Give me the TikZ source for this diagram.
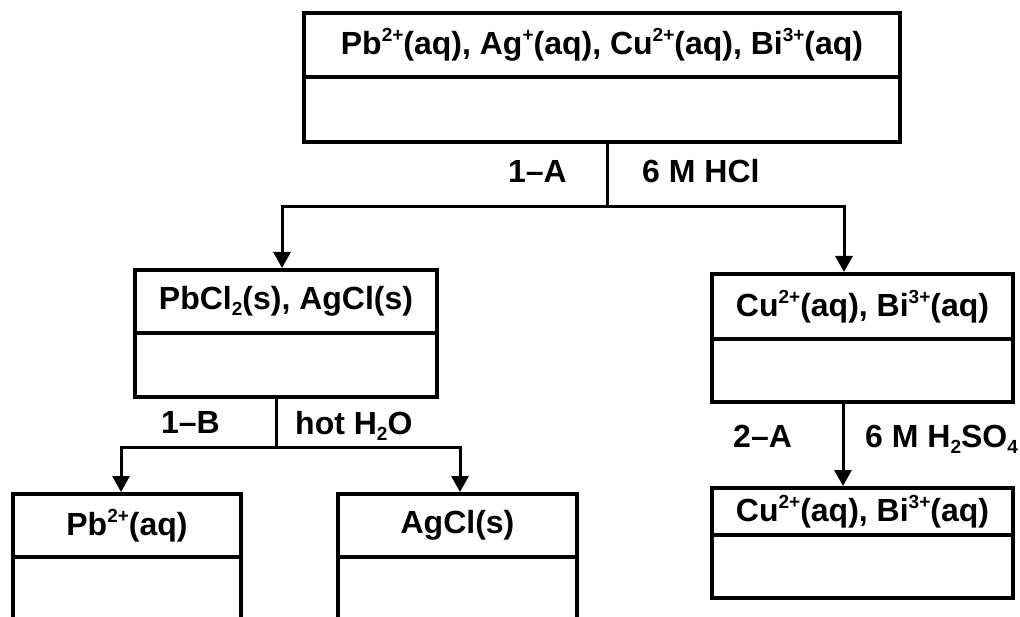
\documentclass[tikz,border=0pt]{standalone}
\usepackage{fontspec}
\setmainfont{Liberation Sans}
\usetikzlibrary{arrows.meta}
\newcommand{\ionsup}[1]{\raisebox{13pt}{\fontsize{19}{19}\selectfont #1}}
\newcommand{\chsub}[1]{\raisebox{-6pt}{\fontsize{19}{19}\selectfont #1}}
\tikzset{
  txt/.style={font=\fontsize{32}{38}\selectfont\bfseries},
  cell/.style={draw, line width=4pt, inner sep=0pt, txt},
  boxline/.style={line width=4pt},
  conn/.style={line width=3pt},
  arr/.style={-{Triangle[length=16pt,width=17pt]}},
  lbl/.style={txt, inner sep=0pt}
}
\begin{document}
\begin{tikzpicture}[x=1pt,y=-1pt]
\useasboundingbox (0,0) rectangle (1020,617);
% top box
\node[cell, minimum width=596pt, minimum height=64pt] (topA) at (602,45) {Pb\ionsup{2+}(aq), Ag\ionsup{+}(aq), Cu\ionsup{2+}(aq), Bi\ionsup{3+}(aq)};
\node[cell, minimum width=596pt, minimum height=65pt] (topB) at (602,109.5) {};
% left box
\node[cell, minimum width=302pt, minimum height=63pt] (leftA) at (286,301.5) {PbCl\chsub{2}(s), AgCl(s)};
\node[cell, minimum width=302pt, minimum height=64pt] (leftB) at (286,365) {};
% right boxes
\node[cell, minimum width=301pt, minimum height=65pt] (rightA) at (862.5,306.5) {Cu\ionsup{2+}(aq), Bi\ionsup{3+}(aq)};
\node[cell, minimum width=301pt, minimum height=63pt] (rightB) at (862.5,370.5) {};
\node[cell, minimum width=301pt, minimum height=47pt] (rtwoA) at (862.5,511.5) {Cu\ionsup{2+}(aq), Bi\ionsup{3+}(aq)};
\node[cell, minimum width=301pt, minimum height=63pt] (rtwoB) at (862.5,566.5) {};
% bottom boxes (open at the bottom)
\node[cell, minimum width=228pt, minimum height=63pt] (blA) at (127,525.5) {Pb\ionsup{2+}(aq)};
\node[cell, minimum width=239pt, minimum height=63pt] (brA) at (457.5,525.5) {AgCl(s)};
\draw[boxline] (13,557) -- (13,617);
\draw[boxline] (241,557) -- (241,617);
\draw[boxline] (338,557) -- (338,617);
\draw[boxline] (577,557) -- (577,617);
% connectors
\coordinate (hA) at (607,207);
\draw[conn] (topB.south -| hA) -- (hA);
\draw[conn, arr] (hA) -| ([xshift=-4pt]leftA.north);
\draw[conn, arr] (hA) -| ([xshift=-18.5pt]rightA.north);
\coordinate (hB) at (276,447);
\draw[conn] (leftB.south -| hB) -- (hB);
\draw[conn, arr] (hB) -| ([xshift=-6pt]blA.north);
\draw[conn, arr] (hB) -| ([xshift=2.5pt]brA.north);
\draw[conn, arr] ([xshift=-19.5pt]rightB.south) -- ([xshift=-19.5pt]rtwoA.north);
% labels
\node[lbl, anchor=base east] (l1a) at (567,183) {1–A};
\node[lbl, anchor=base west] (r1a) at (642,183) {6 M HCl};
\node[lbl, anchor=base east] (l1b) at (220,433) {1–B};
\node[lbl, anchor=base west] (r1b) at (295,434) {hot H\chsub{2}O};
\node[lbl, anchor=base west] (l2a) at (733,447) {2–A};
\node[lbl, anchor=base west] (r2a) at (865,447) {6 M H\chsub{2}SO\chsub{4}};
\end{tikzpicture}
\end{document}
